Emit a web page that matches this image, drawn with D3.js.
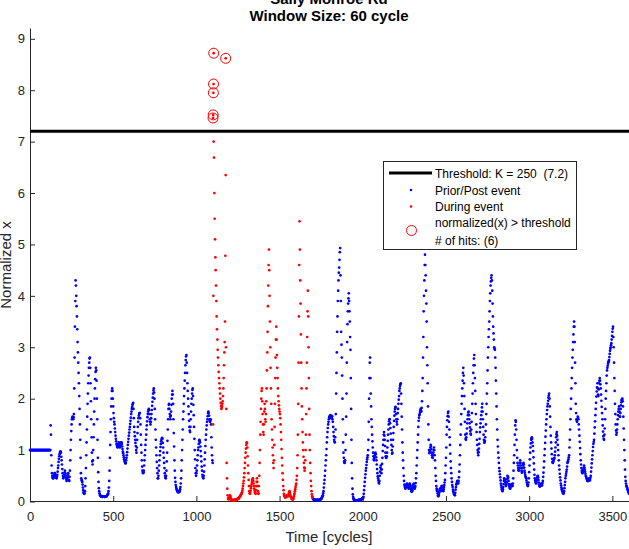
<!DOCTYPE html>
<html>
<head>
<meta charset="utf-8">
<script src="https://cdn.jsdelivr.net/npm/d3@7"></script>
<style>
  body { margin: 0; background: #fff; }
  svg { display: block; font-family: "Liberation Sans", Arial, sans-serif; }
  text { white-space: pre; }
</style>
</head>
<body>
<svg id="chart" width="629" height="549"></svg>
<script>
// chart texts and ticks

const titleLines = ["Sally Monroe Rd", "Window Size: 60 cycle"];
const xLabel = "Time [cycles]";
const yLabel = "Normalized x";
const xTicks = [0, 500, 1000, 1500, 2000, 2500, 3000, 3500];
const yTicks = [0, 1, 2, 3, 4, 5, 6, 7, 8, 9];
const thresholdK = 250;
const thresholdValue = 7.2;

// event window (cycles drawn in red)
const eventStart = 1100;
const eventEnd = 1700;

// normalized x, one row per 100 cycles, one value every 2 cycles
const cycleStep = 2;
const normRows = [
  /* 0 */    [1,1,1,1,1,1,1,1,1,1, 1,1,1,1,1,1,1,1,1,1, 1,1,1,1,1,1,1,1,1,1, 1,1,1,1,1,1,1,1,1,1, 1,1,1,1,1,1,1,1,1,1],
  /* 100 */  [1,1,1,1,1,1,1,1,1,1, 1,1,1.48,1.3,0.9,0.7,0.55,0.5,0.47,0.45, 0.45,0.47,0.5,0.52,0.55,0.55,0.52,0.5,0.48,0.46, 0.45,0.48,0.52,0.58,0.65,0.7,0.77,0.83,0.88,0.92, 0.95,0.97,0.97,0.95,0.87,0.8,0.72,0.63,0.55,0.5],
  /* 200 */  [0.45,0.47,0.5,0.52,0.56,0.6,0.55,0.51,0.47,0.44, 0.4,0.42,0.44,0.48,0.52,0.55,0.48,0.42,0.4,0.48, 0.6,0.8,1.0,1.2,1.37,1.5,1.6,1.63,1.65,1.62, 1.6,1.64,1.7,2.2,2.8,3.4,3.9,4.3,4.2,4.0, 3.8,3.6,3.35,3.1,2.9,2.7,2.5,2.3,2.05,1.8],
  /* 300 */  [1.5,1.2,0.85,0.55,0.45,0.42,0.4,0.38,0.33,0.27, 0.22,0.18,0.16,0.15,0.16,0.2,0.3,0.45,0.65,0.9, 1.15,1.4,1.65,1.9,2.1,2.3,2.45,2.6,2.7,2.78, 2.8,2.6,2.3,1.95,1.6,1.25,0.95,0.78,0.72,0.8, 1.0,1.25,1.5,1.75,2.0,2.2,2.38,2.52,2.6,2.55],
  /* 400 */  [2.35,2.0,1.6,1.2,0.85,0.57,0.38,0.26,0.2,0.16, 0.13,0.12,0.11,0.1,0.1,0.1,0.09,0.09,0.09,0.1, 0.1,0.1,0.1,0.09,0.09,0.09,0.1,0.1,0.1,0.1, 0.1,0.11,0.12,0.13,0.14,0.16,0.2,0.27,0.4,0.6, 0.85,1.1,1.35,1.6,1.85,2.0,2.15,2.2,2.15,2.0],
  /* 500 */  [1.85,1.72,1.62,1.55,1.5,1.42,1.35,1.28,1.22,1.17, 1.12,1.1,1.07,1.05,1.06,1.08,1.12,1.15,1.13,1.08, 1.05,1.07,1.1,1.13,1.15,1.15,1.12,1.07,1.02,0.97, 0.94,0.9,0.86,0.82,0.79,0.77,0.75,0.74,0.75,0.8, 0.85,0.9,0.96,1.03,1.1,1.16,1.22,1.28,1.34,1.4],
  /* 600 */  [1.45,1.51,1.57,1.63,1.7,1.75,1.8,1.84,1.88,1.9, 1.92,1.8,1.62,1.45,1.35,1.27,1.2,1.14,1.08,1.0, 0.95,1.05,1.2,1.33,1.45,1.55,1.62,1.67,1.7,1.72, 1.72,1.62,1.5,1.3,1.1,0.95,0.8,0.68,0.6,0.56, 0.55,0.57,0.6,0.7,0.8,0.9,1.0,1.1,1.2,1.3],
  /* 700 */  [1.4,1.48,1.56,1.64,1.7,1.75,1.78,1.8,1.78,1.7, 1.6,1.55,1.5,1.55,1.62,1.7,1.78,1.86,1.94,2.02, 2.1,2.16,2.2,2.12,2.0,1.8,1.6,1.4,1.2,1.05, 0.9,0.77,0.65,0.55,0.45,0.45,0.5,0.6,0.7,0.8, 0.9,0.98,1.06,1.12,1.17,1.2,1.22,1.24,1.22,1.14],
  /* 800 */  [1.05,0.95,0.85,0.75,0.65,0.55,0.5,0.46,0.45,0.5, 0.6,0.78,0.95,1.18,1.4,1.6,1.8,1.88,1.9,1.8, 1.7,1.65,1.6,1.67,1.75,1.88,2.0,2.08,2.15,2.08, 1.9,1.6,1.33,1.07,0.8,0.6,0.46,0.38,0.32,0.28, 0.25,0.23,0.21,0.2,0.19,0.18,0.18,0.18,0.19,0.2],
  /* 900 */  [0.2,0.24,0.28,0.35,0.45,0.6,0.8,1.0,1.2,1.4, 1.6,1.75,1.9,2.05,2.2,2.35,2.5,2.65,2.75,2.82, 2.85,2.7,2.5,2.3,2.15,2.0,1.85,1.7,1.57,1.45, 1.38,1.35,1.45,1.6,1.75,1.9,2.0,2.1,2.17,2.2, 2.05,1.88,1.68,1.45,1.22,1.0,0.82,0.65,0.55,0.5],
  /* 1000 */ [0.55,0.6,0.7,0.8,0.9,1.0,1.05,1.12,1.18,1.2, 1.18,1.15,1.07,0.98,0.88,0.78,0.68,0.6,0.52,0.48, 0.46,0.45,0.5,0.58,0.7,0.82,0.95,1.08,1.2,1.3, 1.4,1.48,1.55,1.6,1.66,1.72,1.75,1.72,1.67,1.6, 1.57,1.55,1.57,1.6,1.5,1.25,1.05,0.9,0.8,0.75],
  /* 1100 */ [1.5,4.0,7.0,6.69,6.0,5.5,5.1,4.75,4.5,4.2, 3.9,3.6,3.35,3.15,2.95,2.8,2.65,2.52,2.4,2.3, 2.2,2.1,2.0,1.92,1.86,1.8,1.82,1.85,1.9,1.95, 2.05,2.2,2.4,2.65,2.9,3.1,3.5,4.78,6.35,3.0, 1.8,0.75,0.45,0.25,0.12,0.06,0.05,0.04,0.06,0.08],
  /* 1200 */ [0.1,0.12,0.1,0.07,0.05,0.04,0.03,0.03,0.02,0.02, 0.02,0.02,0.02,0.03,0.03,0.02,0.02,0.03,0.04,0.04, 0.03,0.03,0.04,0.05,0.05,0.05,0.05,0.06,0.07,0.08, 0.09,0.1,0.11,0.12,0.13,0.14,0.16,0.18,0.21,0.25, 0.3,0.35,0.4,0.47,0.55,0.65,0.75,0.85,0.95,1.03],
  /* 1300 */ [1.1,1.15,1.14,1.05,0.88,0.7,0.55,0.42,0.3,0.2, 0.16,0.15,0.17,0.21,0.26,0.3,0.34,0.38,0.42,0.44, 0.45,0.4,0.35,0.3,0.25,0.21,0.18,0.16,0.15,0.22, 0.3,0.38,0.45,0.38,0.3,0.2,0.15,0.16,0.3,0.5, 0.75,1.0,1.3,1.55,1.8,2.0,2.15,2.2,1.95,1.7],
  /* 1400 */ [1.5,1.35,1.3,1.5,1.75,1.9,1.8,1.6,1.55,1.7, 1.95,2.2,2.55,2.9,3.3,3.8,4.2,4.6,4.9,4.5, 4.0,3.5,3.0,2.6,2.2,1.9,1.6,1.4,1.2,1.05, 0.9,0.75,0.65,0.8,1.1,1.45,1.9,2.4,2.8,3.15, 3.4,3.15,2.85,2.6,2.4,2.2,2.05,1.95,1.87,1.8],
  /* 1500 */ [1.75,1.7,1.62,1.5,1.35,1.2,1.02,0.85,0.7,0.55, 0.42,0.3,0.22,0.15,0.12,0.1,0.09,0.08,0.08,0.09, 0.1,0.11,0.12,0.11,0.1,0.1,0.12,0.14,0.17,0.19, 0.2,0.17,0.13,0.1,0.09,0.08,0.06,0.05,0.05,0.04, 0.04,0.05,0.07,0.1,0.13,0.16,0.2,0.24,0.28,0.32],
  /* 1600 */ [0.35,0.42,0.5,0.65,0.9,1.3,1.9,2.7,3.6,4.6, 5.45,4.9,4.3,3.85,3.25,2.7,2.2,1.85,1.6,1.35, 1.15,1.0,0.87,0.75,0.66,0.6,0.65,0.8,1.0,1.3, 1.7,2.2,2.7,3.2,3.7,4.1,3.6,3.0,2.4,1.8, 1.3,1.0,0.75,0.55,0.4,0.3,0.2,0.14,0.1,0.08],
  /* 1700 */ [0.06,0.05,0.04,0.04,0.03,0.03,0.03,0.03,0.03,0.02, 0.02,0.02,0.03,0.03,0.03,0.03,0.02,0.02,0.02,0.03, 0.03,0.03,0.04,0.04,0.05,0.05,0.06,0.07,0.09,0.1, 0.12,0.16,0.2,0.27,0.35,0.42,0.5,0.6,0.7,0.8, 0.9,1.02,1.15,1.25,1.35,1.43,1.5,1.55,1.6,1.63],
  /* 1800 */ [1.65,1.66,1.67,1.68,1.65,1.62,1.63,1.65,1.66,1.6, 1.55,1.45,1.35,1.27,1.2,1.16,1.15,1.25,1.4,1.7, 2.1,2.5,2.9,3.3,3.6,3.9,4.1,4.3,4.45,4.55, 4.7,4.85,4.93,4.4,3.9,3.3,3.05,2.8,2.45,2.0, 1.6,1.15,0.95,0.85,0.78,0.75,0.76,0.8,1.0,1.3],
  /* 1900 */ [1.65,2.1,2.7,3.1,3.45,3.7,3.85,3.95,4.05,3.9, 3.7,3.5,3.2,2.95,2.4,1.8,1.2,0.75,0.45,0.25, 0.14,0.09,0.06,0.04,0.03,0.03,0.02,0.02,0.02,0.02, 0.02,0.02,0.02,0.02,0.02,0.02,0.02,0.03,0.03,0.02, 0.02,0.03,0.03,0.03,0.04,0.04,0.04,0.05,0.05,0.06],
  /* 2000 */ [0.06,0.07,0.09,0.15,0.22,0.3,0.38,0.46,0.53,0.6, 0.65,0.71,0.77,0.82,0.86,0.9,1.0,1.2,1.55,2.0, 2.4,2.7,2.8,2.4,2.1,1.85,1.6,1.45,1.3,1.17, 1.05,0.95,0.88,0.82,0.8,0.85,0.9,0.93,0.95,0.92, 0.86,0.8,0.72,0.63,0.55,0.49,0.45,0.41,0.37,0.35],
  /* 2100 */ [0.4,0.5,0.58,0.66,0.7,0.63,0.55,0.62,0.73,0.85, 0.98,1.1,1.2,1.3,1.35,1.28,1.2,1.08,0.95,0.88, 0.85,0.85,0.88,0.95,1.05,1.18,1.3,1.4,1.5,1.56, 1.6,1.6,1.52,1.43,1.32,1.2,1.1,1.0,0.93,0.95, 1.07,1.2,1.33,1.45,1.57,1.67,1.75,1.8,1.84,1.83],
  /* 2200 */ [1.7,1.6,1.55,1.5,1.6,1.72,1.8,1.9,1.98,2.05, 2.15,2.2,2.25,2.28,2.3,2.1,1.9,1.65,1.4,1.15, 0.95,0.8,0.65,0.5,0.4,0.33,0.3,0.27,0.25,0.27, 0.3,0.32,0.34,0.35,0.33,0.3,0.29,0.27,0.25,0.28, 0.32,0.35,0.33,0.31,0.28,0.24,0.2,0.19,0.2,0.22],
  /* 2300 */ [0.26,0.3,0.33,0.35,0.32,0.27,0.25,0.27,0.3,0.36, 0.45,0.55,0.7,0.85,1.0,1.15,1.3,1.45,1.57,1.63, 1.68,1.7,1.74,1.78,1.8,1.77,1.75,1.82,1.95,2.15, 2.4,2.8,3.2,3.7,4.0,4.3,4.6,4.8,4.6,4.4, 4.1,3.85,3.5,3.0,2.65,2.3,1.85,1.5,1.2,1.0],
  /* 2400 */ [0.94,0.97,1.0,1.05,1.1,1.08,1.02,0.95,0.9,0.86, 0.85,0.9,0.95,1.0,1.05,1.0,0.9,0.8,0.65,0.5, 0.4,0.3,0.25,0.22,0.2,0.16,0.12,0.1,0.12,0.15, 0.19,0.23,0.25,0.22,0.2,0.23,0.27,0.3,0.3,0.3, 0.27,0.22,0.2,0.24,0.28,0.32,0.37,0.42,0.55,0.7],
  /* 2500 */ [0.85,1.05,1.3,1.45,1.58,1.66,1.72,1.75,1.65,1.55, 1.4,1.25,1.1,0.93,0.78,0.65,0.55,0.45,0.38,0.32, 0.28,0.23,0.2,0.17,0.15,0.14,0.13,0.12,0.17,0.23, 0.28,0.33,0.35,0.38,0.4,0.39,0.37,0.35,0.4,0.47, 0.58,0.72,0.9,1.1,1.3,1.5,1.7,1.9,2.05,2.2],
  /* 2600 */ [2.35,2.5,2.6,2.45,2.3,2.05,1.8,1.55,1.3,1.22, 1.2,1.25,1.32,1.42,1.52,1.6,1.68,1.73,1.75,1.68, 1.6,1.52,1.44,1.37,1.32,1.3,1.4,1.55,1.72,1.9, 2.1,2.3,2.5,2.65,2.78,2.85,2.65,2.4,2.15,1.9, 1.7,1.5,1.35,1.2,1.1,1.0,0.95,0.9,0.96,1.03],
  /* 2700 */ [1.12,1.22,1.35,1.44,1.52,1.6,1.68,1.75,1.83,1.9, 1.75,1.6,1.45,1.3,1.2,1.15,1.15,1.18,1.25,1.37, 1.5,1.7,1.9,2.1,2.3,2.55,2.8,3.0,3.2,3.35, 3.5,3.7,3.9,4.05,4.2,4.28,4.35,4.4,4.3,4.1, 3.85,3.6,3.4,3.27,3.15,3.0,2.97,2.95,2.8,2.6],
  /* 2800 */ [2.35,2.1,1.85,1.6,1.4,1.2,1.07,0.95,0.85,0.75, 0.65,0.59,0.53,0.47,0.41,0.35,0.31,0.27,0.24,0.22, 0.2,0.24,0.28,0.34,0.4,0.45,0.43,0.41,0.38,0.33, 0.3,0.32,0.34,0.38,0.44,0.5,0.48,0.46,0.4,0.34, 0.3,0.28,0.26,0.25,0.28,0.3,0.32,0.34,0.33,0.31],
  /* 2900 */ [0.3,0.35,0.45,0.6,0.75,0.9,1.1,1.3,1.48,1.58, 1.55,1.4,1.2,1.0,0.85,0.75,0.7,0.65,0.61,0.6, 0.65,0.7,0.75,0.8,0.75,0.7,0.65,0.6,0.56,0.58, 0.65,0.7,0.73,0.75,0.72,0.66,0.6,0.56,0.52,0.49, 0.47,0.45,0.41,0.37,0.34,0.31,0.3,0.32,0.37,0.45],
  /* 3000 */ [0.57,0.7,0.82,0.95,1.05,1.13,1.2,1.23,1.25,1.22, 1.15,1.08,0.98,0.86,0.74,0.62,0.52,0.45,0.41,0.38, 0.36,0.35,0.38,0.42,0.46,0.49,0.5,0.47,0.42,0.37, 0.33,0.3,0.29,0.3,0.31,0.33,0.35,0.33,0.31,0.32, 0.36,0.4,0.48,0.56,0.66,0.78,0.9,1.02,1.14,1.26],
  /* 3100 */ [1.38,1.5,1.6,1.7,1.78,1.85,1.9,1.96,2.02,2.06, 2.1,2.0,1.85,1.65,1.45,1.28,1.15,1.03,0.92,0.83, 0.77,0.75,0.77,0.79,0.81,0.83,0.85,0.9,0.97,1.05, 1.15,1.25,1.31,1.35,1.28,1.2,1.1,1.0,0.9,0.8, 0.7,0.62,0.54,0.47,0.41,0.35,0.31,0.27,0.24,0.22],
  /* 3200 */ [0.2,0.18,0.16,0.15,0.17,0.2,0.26,0.32,0.38,0.45, 0.5,0.54,0.58,0.62,0.68,0.75,0.77,0.79,0.82,0.86, 0.9,1.05,1.2,1.4,1.6,1.8,2.0,2.2,2.4,2.6, 2.8,2.95,3.1,3.25,3.4,3.5,3.4,3.1,2.7,2.3, 1.9,1.72,1.6,1.57,1.55,1.6,1.65,1.63,1.6,1.5],
  /* 3300 */ [1.4,1.28,1.16,1.04,0.92,0.8,0.72,0.65,0.6,0.57, 0.55,0.57,0.59,0.62,0.66,0.7,0.66,0.62,0.58,0.54, 0.5,0.48,0.46,0.44,0.42,0.4,0.4,0.4,0.42,0.44, 0.45,0.43,0.41,0.42,0.46,0.5,0.58,0.66,0.74,0.82, 0.9,0.98,1.06,1.12,1.16,1.2,1.32,1.44,1.56,1.68],
  /* 3400 */ [1.8,1.92,2.04,2.14,2.22,2.3,2.2,2.08,2.05,2.18, 2.3,2.35,2.4,2.35,2.28,2.2,2.08,1.96,1.84,1.72, 1.6,1.48,1.36,1.27,1.22,1.2,1.3,1.42,1.6,1.8, 2.0,2.15,2.3,2.45,2.55,2.6,2.64,2.68,2.71,2.73, 2.75,2.81,2.87,2.93,2.97,3.0,3.04,3.08,3.15,3.22],
  /* 3500 */ [3.3,3.36,3.4,3.2,3.0,2.7,2.4,2.15,1.9,1.7, 1.5,1.38,1.3,1.34,1.4,1.5,1.6,1.68,1.75,1.8, 1.85,1.75,1.65,1.65,1.72,1.8,1.87,1.93,1.97,1.99, 2.0,1.95,1.85,1.65,1.42,1.2,1.0,0.8,0.62,0.48, 0.4,0.35,0.31,0.29,0.27,0.25,0.23,0.21,0.19,0.17, 0.15]
];

// circled points above the threshold
const hitCycles = [1100, 1101, 1102, 1103, 1104, 1176];
const hitValues = [7.46, 7.52, 7.95, 8.12, 8.72, 8.62];

const legendLabels = ["Threshold: K = " + thresholdK + "  (" + thresholdValue + ")", "Prior/Post event", "During event", "normalized(x) > threshold", "# of hits: (" + hitCycles.length + ")"];

// flatten rows to (cycle, value) points
let points = [];
normRows.forEach((row, r) => {
    row.forEach((v, i) => points.push([r * 100 + i * cycleStep, v]));
});
let inEvent = d => d[0] >= eventStart && d[0] < eventEnd;
let hits = hitCycles.map((c, i) => [c, hitValues[i]]);

// layout
const svg = d3.select("#chart");
const axisColor = "#262626";
const blue = "#0000ff", red = "#ff0000";
const dotR = 1.35;

let x = d3.scaleLinear().domain([0, 3600]).range([30, 629]);
let y = d3.scaleLinear().domain([0, 9.21]).range([501.5, 28]);

// axes
let gx = svg.append("g").attr("transform", "translate(0,501)")
    .call(d3.axisBottom(x).tickValues(xTicks).tickFormat(d3.format("d"))
            .tickSizeInner(-5).tickSizeOuter(0).tickPadding(11));
let gy = svg.append("g").attr("transform", "translate(30,0)")
    .call(d3.axisLeft(y).tickValues(yTicks).tickFormat(d3.format("d"))
            .tickSizeInner(-5).tickSizeOuter(0).tickPadding(5));

[gx, gy].forEach(g => {
    g.select(".domain").attr("stroke", axisColor);
    g.selectAll(".tick line").attr("stroke", axisColor);
    g.selectAll(".tick text").attr("fill", axisColor)
     .style("font-size", "13px").style("font-family", "'Liberation Sans', Arial, sans-serif");
});

// dots
function drawDots(data, color) {
    svg.append("g").selectAll("circle").data(data).join("circle")
       .attr("cx", d => x(d[0]))
       .attr("cy", d => y(d[1]))
       .attr("r", dotR)
       .attr("fill", color);
}
drawDots(points.filter(d => !inEvent(d)), blue);
drawDots(points.filter(inEvent), red);
drawDots(hits, red);

// threshold line
svg.append("line")
   .attr("x1", x(0)).attr("x2", x(3600))
   .attr("y1", y(thresholdValue)).attr("y2", y(thresholdValue))
   .attr("stroke", "#000").attr("stroke-width", 3);

// circles round the hits
svg.append("g").selectAll("circle").data(hits).join("circle")
   .attr("cx", d => x(d[0]))
   .attr("cy", d => y(d[1]))
   .attr("r", 5)
   .attr("fill", "none")
   .attr("stroke", red)
   .attr("stroke-width", 1);

// title and axis labels
svg.append("text").attr("x", 329).attr("y", 4).attr("text-anchor", "middle")
   .style("font-size", "15px").style("font-weight", "bold").attr("fill", "#000")
   .text(titleLines[0]);
svg.append("text").attr("x", 329).attr("y", 21).attr("text-anchor", "middle")
   .style("font-size", "15px").style("font-weight", "bold").attr("fill", "#000")
   .text(titleLines[1]);

svg.append("text").attr("x", 329).attr("y", 542).attr("text-anchor", "middle")
   .style("font-size", "15px").attr("fill", axisColor).text(xLabel);

svg.append("text").attr("transform", "translate(11,265) rotate(-90)").attr("text-anchor", "middle")
   .style("font-size", "15px").attr("fill", axisColor).text(yLabel);

// legend
let legend = svg.append("g");
legend.append("rect")
      .attr("x", 383.5).attr("y", 161.5).attr("width", 193).attr("height", 88)
      .attr("fill", "#fff").attr("stroke", axisColor).attr("stroke-width", 1);

let rowY = [173, 190, 206.5, 222.5, 240];

legend.append("line").attr("x1", 389).attr("x2", 432).attr("y1", rowY[0]).attr("y2", rowY[0])
      .attr("stroke", "#000").attr("stroke-width", 3);
legend.append("circle").attr("cx", 411).attr("cy", rowY[1]).attr("r", 1.25).attr("fill", blue);
legend.append("circle").attr("cx", 411).attr("cy", rowY[2]).attr("r", 1.25).attr("fill", red);
legend.append("circle").attr("cx", 411.5).attr("cy", 230.5).attr("r", 5)
      .attr("fill", "none").attr("stroke", red).attr("stroke-width", 1);

legend.selectAll("text.label").data(legendLabels).join("text")
      .attr("class", "label")
      .attr("x", 435)
      .attr("y", (d, i) => rowY[i] + 4.5)
      .style("font-size", "12px")
      .attr("fill", "#000")
      .text(d => d);
</script>
</body>
</html>
